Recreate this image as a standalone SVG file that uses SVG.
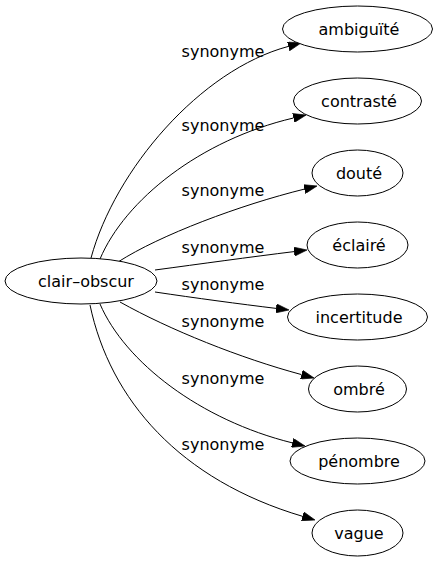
<svg xmlns="http://www.w3.org/2000/svg" width="438" height="563" viewBox="0 0 438 563">
<style>
.node ellipse{fill:#fff;stroke:#000;stroke-width:1}
.node text,.lbl{font-family:"DejaVu Sans",sans-serif;font-size:16px;fill:#000;text-anchor:middle}
.edge{fill:none;stroke:#000;stroke-width:1;marker-end:url(#ah)}
</style>
<defs>
<marker id="ah" viewBox="0 0 10 7" refX="0" refY="3.5" markerUnits="userSpaceOnUse" markerWidth="13" markerHeight="9.2" orient="auto">
<path d="M0,0 L10,3.5 L0,7 z" fill="#000" stroke="#000" stroke-width="0.5"/>
</marker>
</defs>
<rect width="438" height="563" fill="#fff"/>
<g id="connectors">
<path class="edge" d="M91,258 C115,170 200,70 288.4,46.4"/>
<path class="edge" d="M100,259 C125,200 200,140 293.4,118"/>
<path class="edge" d="M118,262 C160,235 240,205 304.4,189.1"/>
<path class="edge" d="M155,270 C200,264 250,257 294.1,251.6"/>
<path class="edge" d="M155,292 C195,298 240,304 276.1,308.4"/>
<path class="edge" d="M120,302 C170,330 240,358 301.5,374.6"/>
<path class="edge" d="M100,304 C125,362 200,420 292.4,442.9"/>
<path class="edge" d="M90,305 C110,400 180,480 302.5,516.3"/>
<text class="lbl" x="223" y="57">synonyme</text>
<text class="lbl" x="223" y="131">synonyme</text>
<text class="lbl" x="223" y="196">synonyme</text>
<text class="lbl" x="223" y="253">synonyme</text>
<text class="lbl" x="223" y="290">synonyme</text>
<text class="lbl" x="223" y="327">synonyme</text>
<text class="lbl" x="223" y="384">synonyme</text>
<text class="lbl" x="223" y="450">synonyme</text>
</g>
<g id="clair-obscur" class="node"><ellipse cx="81" cy="281" rx="76" ry="23"/><text x="86" y="287">clair–obscur</text></g>
<g id="ambiguite" class="node"><ellipse cx="357.5" cy="29" rx="75" ry="23"/><text x="359" y="35">ambiguïté</text></g>
<g id="contraste" class="node"><ellipse cx="357.5" cy="101" rx="64" ry="23"/><text x="359" y="107">contrasté</text></g>
<g id="doute" class="node"><ellipse cx="357.5" cy="173" rx="45.5" ry="23"/><text x="359" y="179">douté</text></g>
<g id="eclaire" class="node"><ellipse cx="357.5" cy="245" rx="50.5" ry="23"/><text x="359" y="251">éclairé</text></g>
<g id="incertitude" class="node"><ellipse cx="357.5" cy="317" rx="70" ry="23"/><text x="359" y="323">incertitude</text></g>
<g id="ombre" class="node"><ellipse cx="357.5" cy="389" rx="49" ry="23"/><text x="359" y="395">ombré</text></g>
<g id="penombre" class="node"><ellipse cx="357.5" cy="461" rx="67.5" ry="23"/><text x="359" y="467">pénombre</text></g>
<g id="vague" class="node"><ellipse cx="357.5" cy="533" rx="45.5" ry="23"/><text x="359" y="539">vague</text></g>
</svg>
